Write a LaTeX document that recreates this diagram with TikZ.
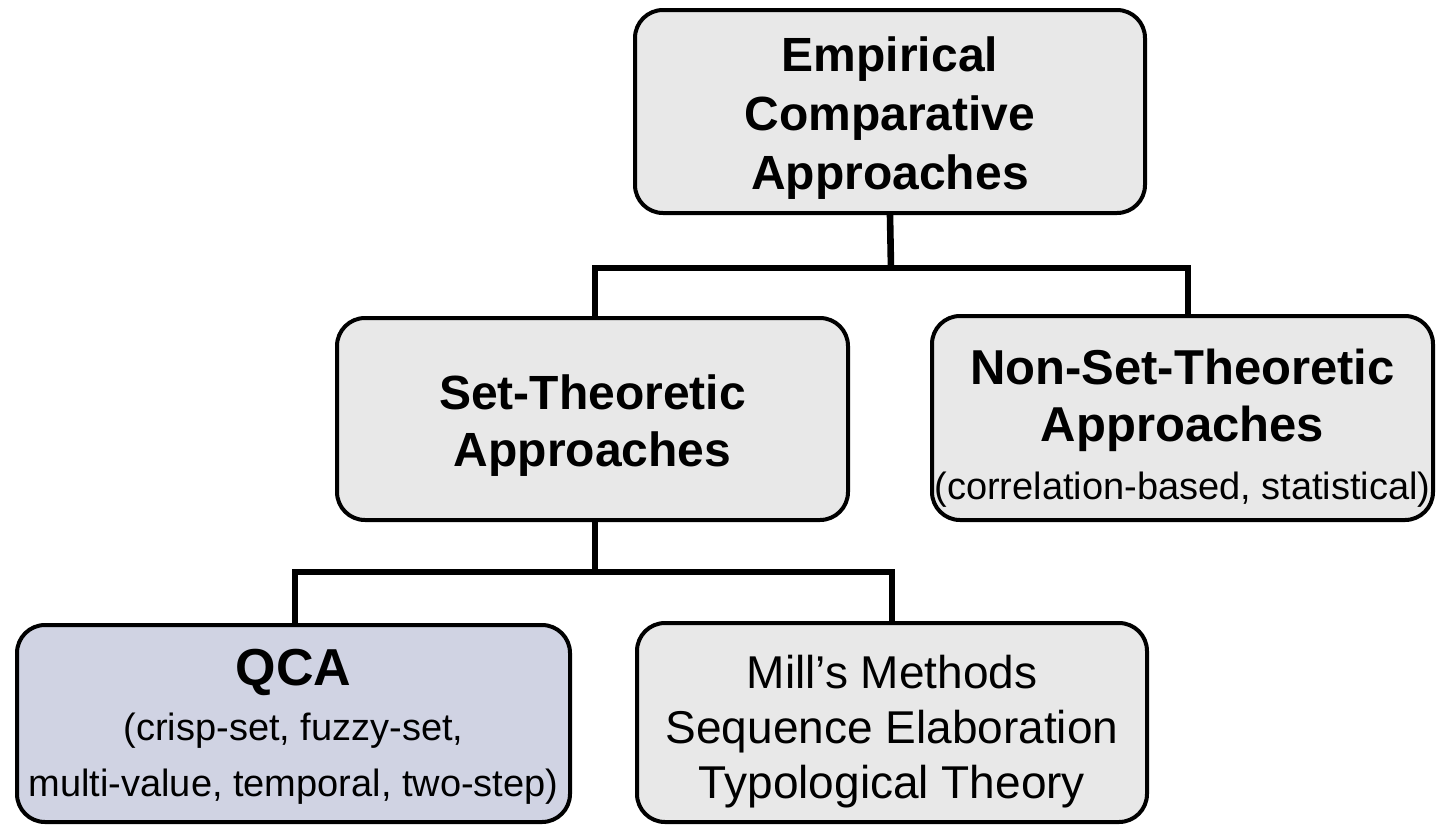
\documentclass[tikz,border=0pt]{standalone}
\usepackage{fontspec}
\setmainfont{Liberation Sans}
\definecolor{boxgrey}{HTML}{E8E8E8}
\definecolor{boxlav}{HTML}{D0D3E3}
\begin{document}
\begin{tikzpicture}[x=0.5pt,y=-0.5pt,
  box/.style={draw=black, line width=2pt, rounded corners=14pt, fill=boxgrey,
    inner sep=0pt},
  txt/.style={align=center, inner sep=0pt},
  big/.style={font=\fontsize{24}{29.5}\selectfont\bfseries},
  conn/.style={draw=black, line width=3.3pt}]
\useasboundingbox (0,0) rectangle (1437,826);

% boxes
\node[box, minimum width=255pt, minimum height=101.5pt] (top) at (890,111.5) {};
\node[box, minimum width=255.5pt, minimum height=101pt] (set) at (592.5,419) {};
\node[box, minimum width=250.5pt, minimum height=102pt] (non) at (1182.5,418) {};
\node[box, fill=boxlav, minimum width=276.5pt, minimum height=98.5pt] (qca) at (293.5,723.5) {};
\node[box, minimum width=255pt, minimum height=99.5pt] (mill) at (892,722.5) {};

% box texts
\node[txt, big] (toptext) at ([yshift=-3.5pt]top.center)
  {Empirical\\Comparative\\Approaches};
\node[txt, font=\fontsize{24}{28.5}\selectfont\bfseries] (settext)
  at ([yshift=-3.5pt]set.center) {Set-Theoretic\\Approaches};
\node[txt, font=\fontsize{24.5}{28.8}\selectfont] (nontext)
  at ([yshift=-5pt]non.center)
  {{\bfseries Non-Set-Theoretic}\\
   {\bfseries Approaches}\\
   {\fontsize{19}{23}\selectfont (correlation-based, statistical)}};
\node[txt, font=\fontsize{19}{27.8}\selectfont] (qcatext)
  at ([yshift=-1.5pt]qca.center)
  {{\fontsize{26}{28}\selectfont\bfseries QCA}\\
   (crisp-set, fuzzy-set,\\
   multi-value, temporal, two-step)};
\node[txt, font=\fontsize{23}{27.5}\selectfont] (milltext)
  at ([yshift=-4.5pt]mill.center)
  {Mill’s Methods\\Sequence Elaboration\\Typological Theory};

% tree connectors
\coordinate (j1) at (891,268);
\coordinate (j2) at (595,572);
\draw[conn] (top.south) -- (j1);
\draw[conn] ([xshift=1.25pt]set.north) |- (j1) -| ([xshift=2.75pt]non.north);
\draw[conn] ([xshift=1.25pt]set.south) -- (j2);
\draw[conn] ([xshift=0.75pt]qca.north) |- (j2) -| (mill.north);
\end{tikzpicture}
\end{document}
